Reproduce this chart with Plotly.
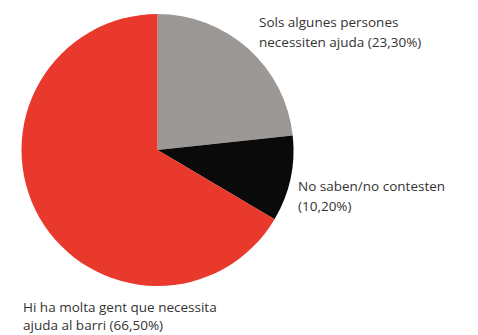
import plotly.graph_objects as go

categories = [
    "Sols algunes persones necessiten ajuda",
    "No saben/no contesten",
    "Hi ha molta gent que necessita ajuda al barri",
]
values = [23.30, 10.20, 66.50]
colors = ["#9B9896", "#0A0A0A", "#E8392C"]

# label line splits (text only)
label_lines = [
    ["Sols algunes persones", "necessiten ajuda ({})"],
    ["No saben/no contesten", "({})"],
    ["Hi ha molta gent que necessita", "ajuda al barri ({})"],
]
label_pos = [  # (x px, y px of first line, line spacing)
    (257, 22, 20),
    (296, 186, 20),
    (21, 307, 18),
]

W, H = 478, 335
cx, cy, r = 157.5, 150, 136

fig = go.Figure(go.Pie(
    labels=categories,
    values=values,
    marker=dict(colors=colors, line=dict(width=0)),
    sort=False,
    direction="clockwise",
    rotation=0,
    textinfo="none",
    hoverinfo="label+percent",
    showlegend=False,
    domain=dict(x=[(cx - r) / W, (cx + r) / W], y=[(H - cy - r) / H, (H - cy + r) / H]),
))

annotations = []
for lines, (x, y, dy), v in zip(label_lines, label_pos, values):
    pct = f"{v:.2f}%".replace(".", ",")
    for i, ln in enumerate(lines):
        annotations.append(dict(
            x=x / W, y=1 - (y + i * dy) / H, xref="paper", yref="paper",
            xanchor="left", yanchor="middle", showarrow=False,
            text=ln.format(pct),
            font=dict(family="Open Sans, sans-serif", size=13.5, color="#333333"),
        ))

fig.update_layout(
    width=W, height=H,
    margin=dict(l=0, r=0, t=0, b=0),
    paper_bgcolor="white", plot_bgcolor="white",
    annotations=annotations,
)

fig.write_html("out.html")
